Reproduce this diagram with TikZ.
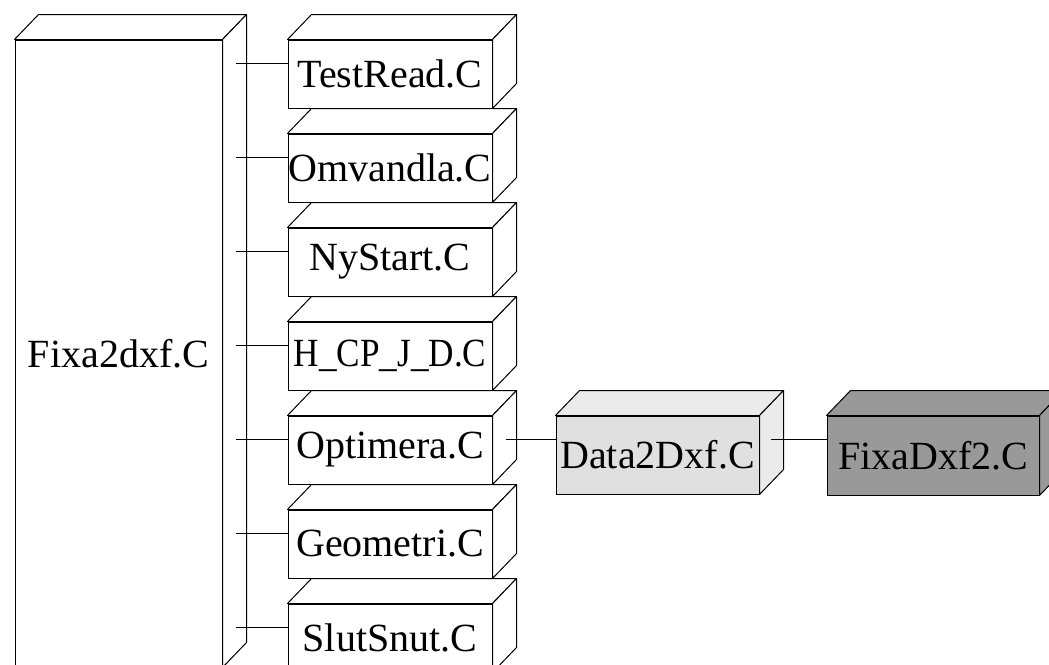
\documentclass[tikz,border=0pt]{standalone}
\usepackage{fontspec}
\setmainfont{Liberation Serif}
\usetikzlibrary{positioning, calc}

% top and side faces of a file block
\newcommand{\blockdepth}[2]{%
  \draw[face, fill=#2] (#1.north west) -- ++(24,-25) -- ($(#1.north east)+(24,-25)$) -- (#1.north east) -- cycle;
  \draw[face, fill=#2] (#1.north east) -- ++(24,-25) -- ($(#1.south east)+(24,-25)$) -- (#1.south east) -- cycle;}

\begin{document}
\begin{tikzpicture}[x=1pt, y=-1pt,
    node distance=25pt,
    file/.style={
        rectangle, draw, line width=1pt, fill=white,
        inner sep=0pt, minimum width=204pt, minimum height=68pt,
        font=\fontsize{40}{44}\selectfont},
    face/.style={line width=1pt, line join=round},
    link/.style={line width=1pt}]

\useasboundingbox (0,0) rectangle (1049,664);
\clip (0,0) rectangle (1049,664);

\node[file, minimum width=207pt, minimum height=627pt] (fixa) at (118.5,353.5) {Fixa2dxf.C};
\node[file] (testread) at (390,74)  {TestRead.C};
\node[file, below=of testread]  (omvandla) {Omvandla.C};
\node[file, below=of omvandla]  (nystart)  {NyStart.C};
\node[file, below=of nystart]   (hcpjd)    {\scalebox{0.88}[1]{H\_CP\_J\_D.C}};
\node[file, below=of hcpjd]     (optimera) {Optimera.C};
\node[file, below=of optimera]  (geometri) {Geometri.C};
\node[file, below=of geometri]  (slutsnut) {SlutSnut.C};
\node[file, fill=black!12, minimum width=203pt, minimum height=78pt,
      right=63pt of optimera.north east, anchor=north west] (data2dxf) {Data2Dxf.C};
\node[file, fill=black!40, minimum width=212pt, minimum height=79pt,
      right=67pt of data2dxf.north east, anchor=north west] (fixadxf2) {FixaDxf2.C};

% depth of the blocks
\blockdepth{fixa}{white}
\blockdepth{testread}{white}
\blockdepth{omvandla}{white}
\blockdepth{nystart}{white}
\blockdepth{hcpjd}{white}
\blockdepth{optimera}{white}
\blockdepth{geometri}{white}
\blockdepth{slutsnut}{white}
\blockdepth{data2dxf}{black!8}
\blockdepth{fixadxf2}{black!40}

% calls from the main file
\draw[link] ([xshift=13pt, yshift=11pt]fixa.east |- testread.west) -- ([yshift=11pt]testread.west);
\draw[link] ([xshift=13pt, yshift=11pt]fixa.east |- omvandla.west) -- ([yshift=11pt]omvandla.west);
\draw[link] ([xshift=13pt, yshift=11pt]fixa.east |- nystart.west)  -- ([yshift=11pt]nystart.west);
\draw[link] ([xshift=13pt, yshift=11pt]fixa.east |- hcpjd.west)    -- ([yshift=11pt]hcpjd.west);
\draw[link] ([xshift=13pt, yshift=11pt]fixa.east |- optimera.west) -- ([yshift=11pt]optimera.west);
\draw[link] ([xshift=13pt, yshift=11pt]fixa.east |- geometri.west) -- ([yshift=11pt]geometri.west);
\draw[link] ([xshift=13pt, yshift=11pt]fixa.east |- slutsnut.west) -- ([yshift=11pt]slutsnut.west);

% export chain
\draw[link] ([xshift=13pt, yshift=11pt]optimera.east) -- ([yshift=11pt]optimera.east -| data2dxf.west);
\draw[link] ([xshift=11pt, yshift=11pt]optimera.east -| data2dxf.east) -- ([yshift=11pt]optimera.east -| fixadxf2.west);

\end{tikzpicture}
\end{document}
